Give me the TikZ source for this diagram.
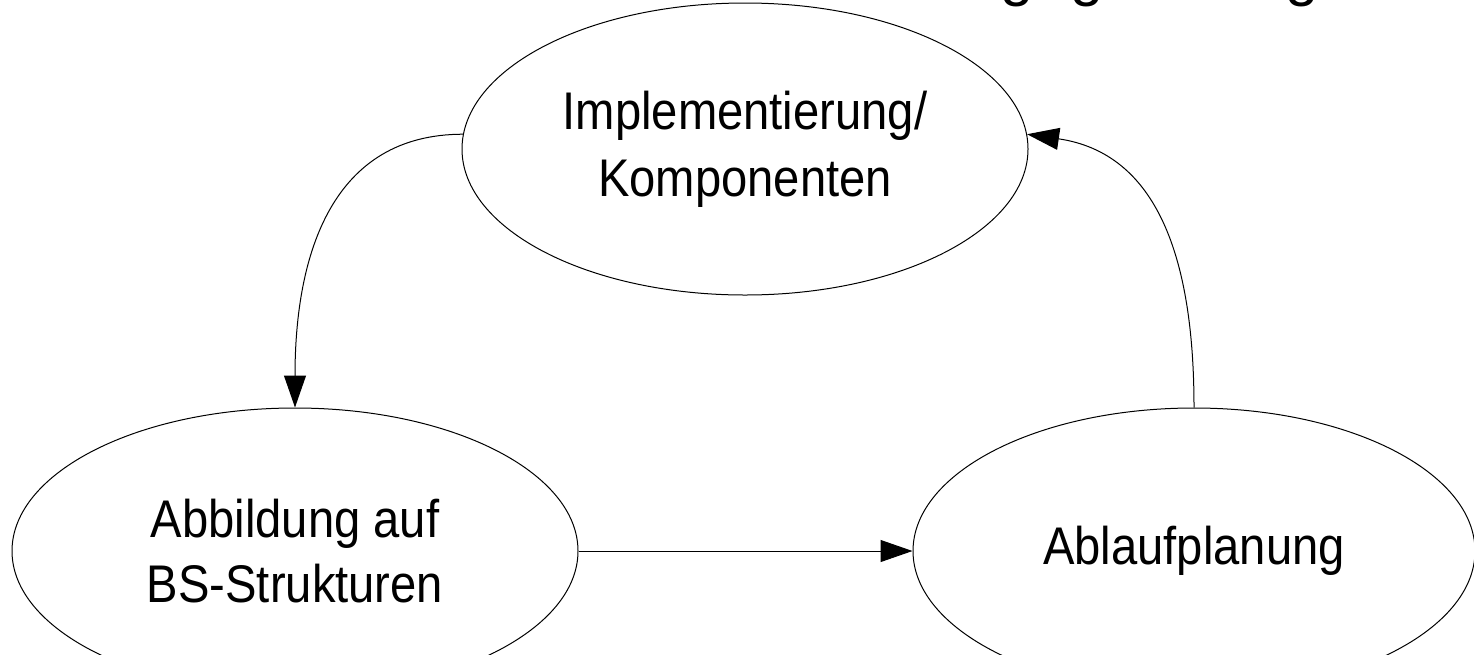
\documentclass[tikz,border=0pt]{standalone}
\usepackage{fontspec}
\setmainfont{Liberation Sans}
\newfontfamily\condfont[FakeStretch=0.89]{Liberation Sans}
\usetikzlibrary{shapes.geometric,arrows.meta}
\begin{document}
\begin{tikzpicture}[x=1pt,y=-1pt,
  state/.style={draw=black,line width=1pt,ellipse,inner sep=0pt,
    minimum width=566pt,minimum height=292pt,align=center,
    font=\condfont\fontsize{53}{67}\selectfont},
  frag/.style={font=\fontsize{60}{60}\selectfont,anchor=base,inner sep=0pt},
  conn/.style={draw=black,line width=1pt,-{Triangle[length=32pt,width=22pt]}}]
\useasboundingbox (0,0) rectangle (1474,654);
\clip (0,0) rectangle (1474,654);
\node[state] (impl) at (745,149) {Implementierung/\\Komponenten};
\node[state,minimum height=286pt,font=\condfont\fontsize{53}{65}\selectfont] (abb) at (295,551) {Abbildung auf\\BS-Strukturen};
\node[state,minimum width=562pt,minimum height=286pt] (abl) at (1194,551) {Ablaufplanung};
% fragments of a cut-off title
\node[frag] (g1) at (1017,-5.6) {g};
\node[frag] (g2) at (1087,-5.6) {g};
\node[frag] (g3) at (1302,-5.6) {g};
\draw[conn] (impl.177) .. controls +(-130,0) and +(0,-155) .. (abb.north);
\draw[conn] (abl.north) .. controls +(0,-150) and +(130,19) .. (impl.3);
\draw[conn] (abb.east) -- (abl.west);
\end{tikzpicture}
\end{document}
